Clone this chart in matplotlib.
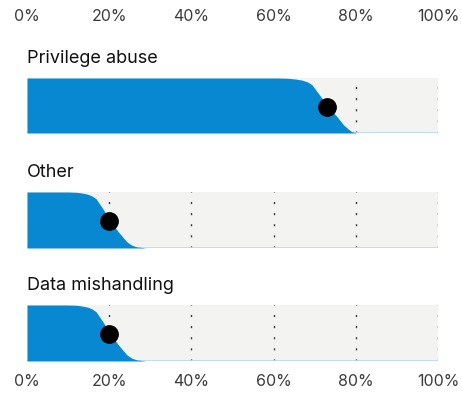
import matplotlib
matplotlib.use("Agg")
import matplotlib.pyplot as plt

plt.rcParams["font.family"] = ["Inter", "DejaVu Sans"]

# share of cases still open (1 = all) against share of the timeline, per category
CATEGORIES = ["Privilege abuse", "Other", "Data mishandling"]
CURVE_X = [
    [0, 61, 63.5, 65.5, 67, 68.2, 69.3, 70.9, 73.1, 75.4, 77.0, 78.2, 79.0, 80.2, 100],
    [0, 10, 12, 13.5, 14.8, 15.8, 16.8, 18.2, 20.2, 22.2, 24.3, 25.5, 26.7, 29.0, 100],
    [0, 10, 12, 13.5, 14.8, 15.8, 16.8, 18.2, 20.2, 22.2, 24.3, 25.5, 26.7, 29.0, 100],
]
CURVE_Y = [
    [1, 1, 0.995, 0.98, 0.96, 0.93, 0.88, 0.72, 0.49, 0.30, 0.15, 0.07, 0.025, 0, 0],
    [1, 1, 0.995, 0.98, 0.96, 0.93, 0.88, 0.73, 0.50, 0.29, 0.11, 0.05, 0.02, 0, 0],
    [1, 1, 0.995, 0.98, 0.96, 0.93, 0.88, 0.73, 0.50, 0.29, 0.11, 0.05, 0.02, 0, 0],
]
MEDIANS = [73, 20, 20]
TICKS = [0, 20, 40, 60, 80, 100]
TICK_LABELS = ["0%", "20%", "40%", "60%", "80%", "100%"]

BLUE = "#0788d0"
BG = "#f3f3f2"

W, H = 462, 395
fig = plt.figure(figsize=(W / 100, H / 100), dpi=100)

# panel tops/bottoms in pixels
panels = [(78, 133), (192, 248), (305, 361)]
left, right = 27, 438

axes = []
for i, (top, bot) in enumerate(panels):
    ax = fig.add_axes([left / W, 1 - bot / H, (right - left) / W, (bot - top) / H])
    ax.set_xlim(0, 100)
    ax.set_ylim(0, 1)
    ax.set_facecolor(BG)
    for s in ax.spines.values():
        s.set_visible(False)
    for t in TICKS[1:]:
        ax.axvline(t, color="#3a3a3a", lw=1.0, linestyle=(0, (1.5, 6.5)), zorder=1)
    ax.axhline(0, color="#b5dbf1", lw=1.2, zorder=2)
    ax.fill_between(CURVE_X[i], 0, CURVE_Y[i], color=BLUE, lw=0, zorder=3)
    ax.plot([MEDIANS[i]], [0.48], "o", color="black", ms=12.5, zorder=4)
    ax.annotate(CATEGORIES[i], xy=(0, 1), xycoords="axes fraction",
                xytext=(0, 11), textcoords="offset points",
                ha="left", va="baseline", fontsize=13, color="#111111")
    ax.set_yticks([])
    ax.set_xticks(TICKS)
    ax.set_xticklabels(TICK_LABELS)
    ax.tick_params(axis="x", length=0, labelsize=11.5, labelcolor="#3c3c3c",
                   bottom=False, labelbottom=False)
    axes.append(ax)

axes[0].tick_params(axis="x", top=False, labeltop=True, pad=39)
axes[-1].tick_params(axis="x", bottom=False, labelbottom=True, pad=9)

fig.savefig("out.png", dpi=100)
